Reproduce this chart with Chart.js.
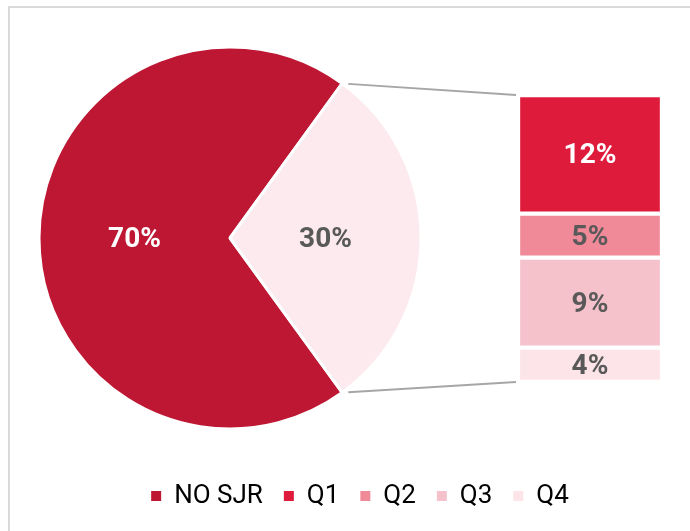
<!DOCTYPE html>
<html>
<head>
<meta charset="utf-8">
<script src="https://cdn.jsdelivr.net/npm/chart.js@4.4.1/dist/chart.umd.min.js"></script>
<style>
    html, body { margin: 0; padding: 0; background: #ffffff; overflow: hidden; }
    body { width: 690px; height: 531px; position: relative; }
    .frame { position: absolute; left: 8px; top: 6px; width: 800px; height: 700px; border: 2px solid #d9d9d9; }
    .layer { position: absolute; left: 0; top: 0; width: 720px; height: 531px; }
</style>
</head>
<body>
<div class="frame"></div>
<div class="layer"><canvas id="pieChart"></canvas></div>
<div class="layer"><canvas id="barChart"></canvas></div>
<script>
// Pie: share with / without SJR quartile
const pieLabels = ['NO SJR', 'SJR'];
const pieValues = [70, 30];
const pieColors = ['#be1733', '#fceaee'];
const pieTextColors = ['#ffffff', '#595959'];

// Bar of pie: split of the SJR slice by quartile
const quartileLabels = ['Q1', 'Q2', 'Q3', 'Q4'];
const quartileValues = [12.4, 4.6, 9.4, 3.6];
const quartileColors = ['#df1b3c', '#f08a99', '#f5c1ca', '#fce4e9'];
const quartileTextColors = ['#ffffff', '#595959', '#595959', '#595959'];

const legendNames = [pieLabels[0]].concat(quartileLabels);
const legendColors = [pieColors[0]].concat(quartileColors);
const quartileTotal = quartileValues.reduce((a, b) => a + b, 0);

Chart.defaults.font.family = 'Roboto';

// percentage text in the middle of each slice
const sliceLabels = {
    id: 'sliceLabels',
    afterDatasetsDraw(chart) {
        const ctx = chart.ctx;
        const arcs = chart.getDatasetMeta(0).data;
        ctx.save();
        ctx.font = 'bold 28px Roboto';
        ctx.textAlign = 'center';
        ctx.textBaseline = 'middle';
        arcs.forEach((arc, i) => {
            const mid = (arc.startAngle + arc.endAngle) / 2;
            const r = arc.outerRadius * 0.5;
            ctx.fillStyle = pieTextColors[i];
            ctx.fillText(pieValues[i] + '%', arc.x + Math.cos(mid) * r, arc.y + Math.sin(mid) * r + 2);
        });
        ctx.restore();
    }
};

const pieChart = new Chart(document.getElementById('pieChart'), {
    type: 'pie',
    data: {
        labels: pieLabels,
        datasets: [{
            data: pieValues,
            backgroundColor: pieColors,
            borderColor: '#ffffff',
            borderWidth: 3
        }]
    },
    options: {
        responsive: true,
        maintainAspectRatio: false,
        animation: false,
        rotation: 144,
        radius: 191,
        layout: { padding: { left: 40, right: 300, top: 48, bottom: 103 } },
        plugins: {
            legend: { display: false },
            tooltip: { enabled: false }
        }
    },
    plugins: [sliceLabels]
});

const segmentLabels = {
    id: 'segmentLabels',
    afterDatasetsDraw(chart) {
        const ctx = chart.ctx;
        ctx.save();
        ctx.font = 'bold 28px Roboto';
        ctx.textAlign = 'center';
        ctx.textBaseline = 'middle';
        quartileValues.forEach((v, i) => {
            const bar = chart.getDatasetMeta(i).data[0];
            ctx.fillStyle = quartileTextColors[i];
            ctx.fillText(Math.round(v) + '%', bar.x, (bar.y + bar.base) / 2 + 2);
        });
        ctx.restore();
    }
};

// grey lines from the small slice to the stacked bar
const connectorLines = {
    id: 'connectorLines',
    afterDraw(chart) {
        const ctx = chart.ctx;
        const arc = pieChart.getDatasetMeta(0).data[1];
        const first = chart.getDatasetMeta(0).data[0];
        const last = chart.getDatasetMeta(quartileLabels.length - 1).data[0];
        const barLeft = first.x - first.width / 2 - 2;
        const ends = [
            [arc.startAngle, Math.min(first.y, first.base)],
            [arc.endAngle, Math.max(last.y, last.base)]
        ];
        ctx.save();
        ctx.strokeStyle = '#a6a6a6';
        ctx.lineWidth = 2;
        ends.forEach(([angle, y]) => {
            const x0 = arc.x + Math.cos(angle) * arc.outerRadius;
            const y0 = arc.y + Math.sin(angle) * arc.outerRadius;
            const len = Math.hypot(barLeft - x0, y - y0);
            const gap = 6;
            ctx.beginPath();
            ctx.moveTo(x0 + (barLeft - x0) / len * gap, y0 + (y - y0) / len * gap);
            ctx.lineTo(barLeft, y);
            ctx.stroke();
        });
        ctx.restore();
    }
};

const hiddenAxis = {
    grid: { display: false },
    border: { display: false },
    ticks: { display: false }
};

new Chart(document.getElementById('barChart'), {
    type: 'bar',
    data: {
        labels: [''],
        datasets: quartileLabels.map((q, i) => ({
            label: q,
            data: [quartileValues[i]],
            backgroundColor: quartileColors[i],
            borderColor: '#ffffff',
            borderWidth: 2.5,
            borderSkipped: false,
            barPercentage: 1,
            categoryPercentage: 1
        }))
    },
    options: {
        responsive: true,
        maintainAspectRatio: false,
        animation: false,
        layout: { padding: { top: 95, bottom: 12 } },
        scales: {
            x: { ...hiddenAxis, stacked: true, afterFit: s => { s.height = 80; } },
            y: { ...hiddenAxis, stacked: true, reverse: true, min: 0, max: quartileTotal, afterFit: s => { s.width = 518; } },
            yRight: { ...hiddenAxis, type: 'linear', position: 'right', afterFit: s => { s.width = 58; } }
        },
        plugins: {
            legend: {
                position: 'bottom',
                labels: {
                    boxWidth: 10,
                    boxHeight: 10,
                    padding: 21,
                    color: '#595959',
                    font: { size: 26 },
                    generateLabels: () => legendNames.map((name, i) => ({
                        text: name,
                        fillStyle: legendColors[i],
                        strokeStyle: legendColors[i],
                        lineWidth: 0,
                        hidden: false,
                        datasetIndex: i
                    }))
                }
            },
            tooltip: { enabled: false }
        }
    },
    plugins: [segmentLabels, connectorLines]
});
</script>
</body>
</html>
